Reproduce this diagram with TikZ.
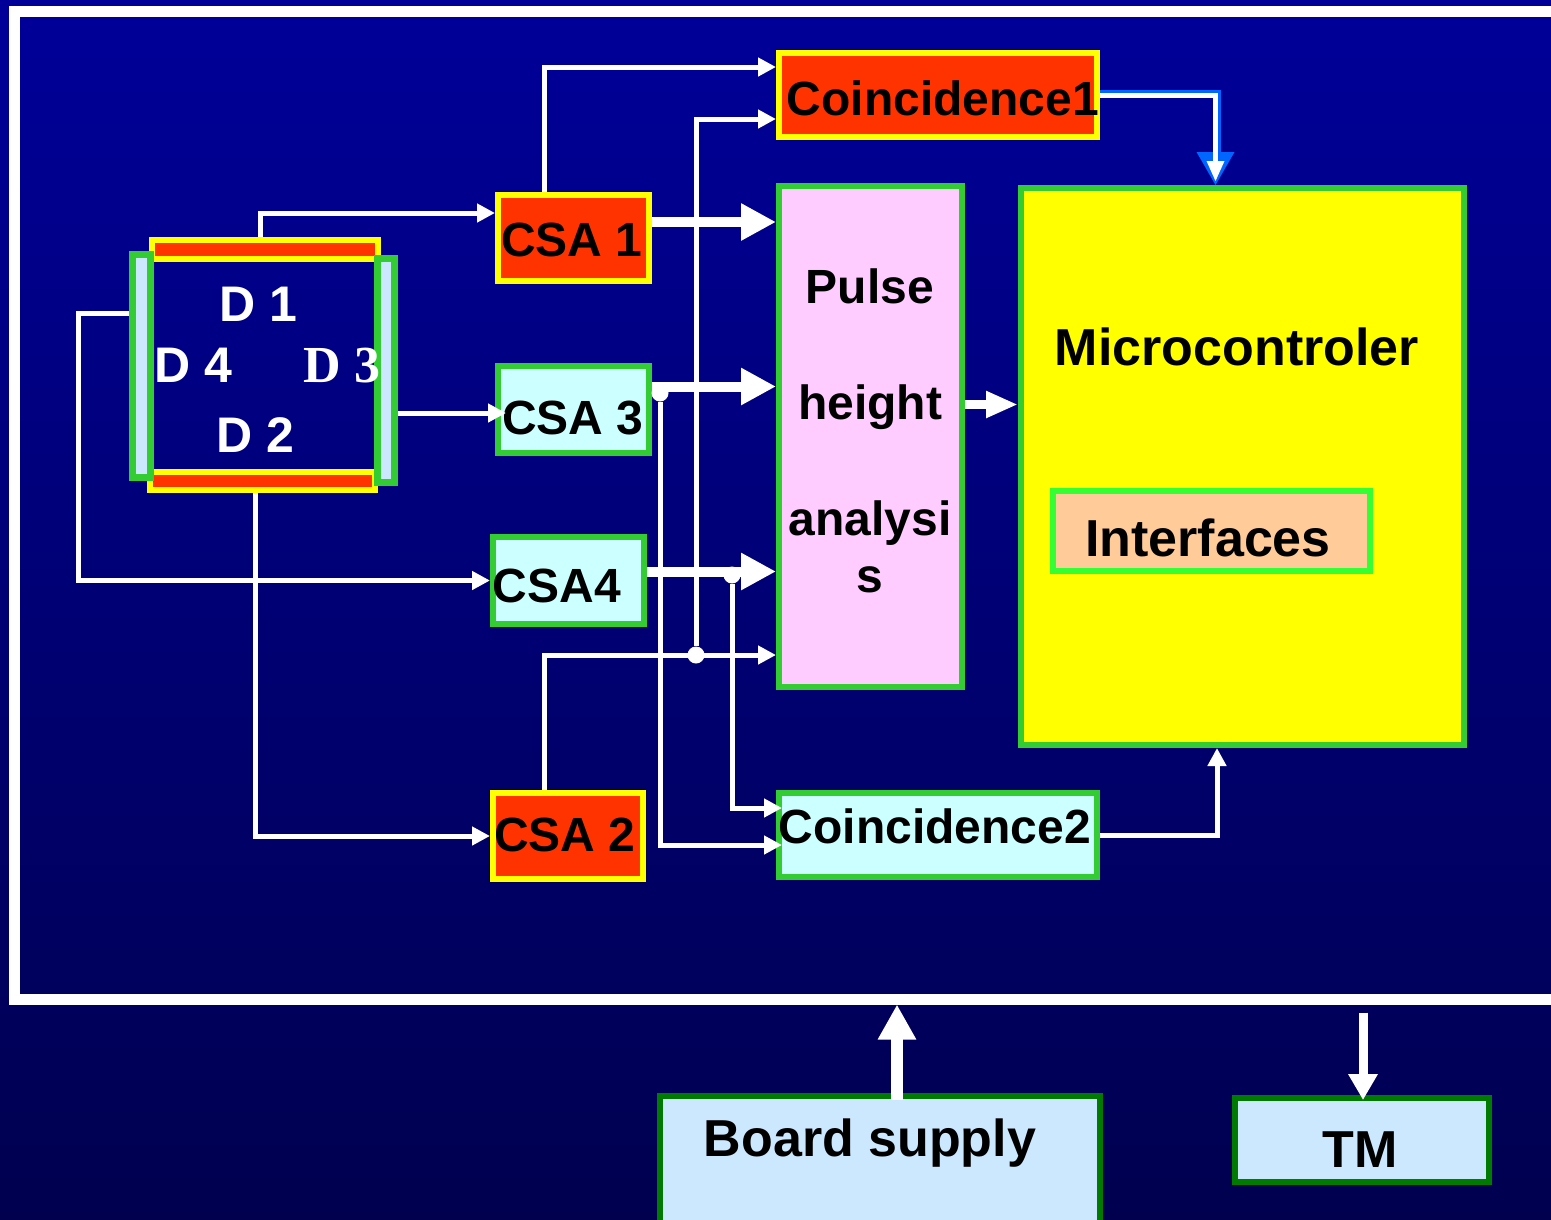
\documentclass[tikz,border=0pt]{standalone}
\usepackage{fontspec}
\setmainfont{Liberation Sans}
\newfontfamily\timesbf{Liberation Serif}
\usepackage{tikz}
\usetikzlibrary{arrows.meta,positioning,calc}
\definecolor{bgtop}{HTML}{000099}
\definecolor{bgbottom}{HTML}{00004F}
\definecolor{csared}{HTML}{FF3300}
\definecolor{csayellow}{HTML}{FFFF00}
\definecolor{boxgreen}{HTML}{33CC33}
\definecolor{limeline}{HTML}{33FF33}
\definecolor{darkline}{HTML}{007A00}
\definecolor{cyanback}{HTML}{CCFFFF}
\definecolor{skyback}{HTML}{CCE8FF}
\definecolor{pinkback}{HTML}{FFCCFF}
\definecolor{peachback}{HTML}{FFCC99}
\definecolor{edgeblue}{HTML}{0066FF}

\begin{document}
\begin{tikzpicture}[
  x=1pt,y=-1pt,
  blk/.style={rectangle,inner sep=0pt,line width=6pt},
  redbox/.style={blk,draw=csayellow,fill=csared},
  cyanbox/.style={blk,draw=boxgreen,fill=cyanback},
  gbar/.style={rectangle,inner sep=0pt,line width=7pt,draw=boxgreen,fill=skyback},
  lbl/.style={anchor=base,inner sep=0pt,text=black,font=\bfseries\fontsize{48}{50}\selectfont},
  bigtxt/.style={font=\bfseries\fontsize{52}{54}\selectfont},
  dlbl/.style={lbl,text=white,font=\bfseries\fontsize{50}{52}\selectfont},
  wire/.style={draw=white,line width=5pt,-{Triangle[length=18pt,width=18pt]}},
  bus/.style={draw=white,line width=10pt,-{Triangle[length=35pt,width=35pt]}},
  power/.style={draw=white,line width=12pt,-{Triangle[length=35pt,width=36pt]}},
  tmline/.style={draw=white,line width=9pt,-{Triangle[length=26pt,width=28pt]}},
  junc/.style={circle,fill=white,inner sep=0pt,minimum size=17pt}
]
\useasboundingbox (0,0) rectangle (1551,1219);
\shade[top color=bgtop,bottom color=bgbottom] (0,0) rectangle (1551,1219);
\node[draw=white,line width=11pt,inner sep=0pt,minimum width=1556pt,minimum height=988pt] (pcb) at (792,505) {};

\node[redbox,minimum width=226pt,minimum height=19pt] (d1) at (265,249.5) {};
\node[redbox,minimum width=225pt,minimum height=18pt] (d2) at (262.5,481) {};
\node[gbar,minimum width=18pt,minimum height=223pt] (d4) at (141.5,366) {};
\node[gbar,minimum width=17pt,minimum height=224pt] (d3) at (386,370.5) {};

\node[redbox,minimum width=318pt,minimum height=84pt] (c1) at (938,95) {};
\node[redbox,minimum width=151pt,minimum height=86pt] (csa1) at (573.5,238) {};
\node[cyanbox,minimum width=151pt,minimum height=87pt] (csa3) at (573.5,409.5) {};
\node[cyanbox,minimum width=151pt,minimum height=87pt] (csa4) at (568.5,580.5) {};
\node[redbox,minimum width=150pt,minimum height=86pt] (csa2) at (568,836) {};
\node[cyanbox,minimum width=318pt,minimum height=84pt] (c2) at (938,835) {};
\node[blk,draw=boxgreen,fill=pinkback,minimum width=183pt,minimum height=501pt] (pha) at (870.5,436.5) {};
\node[blk,draw=boxgreen,fill=csayellow,minimum width=443pt,minimum height=557pt] (mc) at (1242.5,466.5) {};
\node[blk,draw=limeline,fill=peachback,minimum width=317pt,minimum height=80pt] (itf) at (1211.5,531) {};
\node[blk,draw=darkline,fill=skyback,minimum width=440pt,minimum height=131pt] (bs) at (880,1161.5) {};
\node[blk,draw=darkline,fill=skyback,minimum width=254pt,minimum height=84pt] (tm) at (1362,1140) {};

\node[dlbl] (t-d1) at (258,321) {D 1};
\node[dlbl] (t-d4) at (193,382) {D 4};
\node[dlbl,font=\timesbf\bfseries\fontsize{52}{54}\selectfont] (t-d3) at (342,382) {D 3};
\node[dlbl] (t-d2) at (255,452) {D 2};
\node[lbl] (t-csa1) at (572,256) {CSA 1};
\node[lbl] (t-csa3) at (573,434) {CSA 3};
\node[lbl] (t-csa4) at (557,602) {CSA4};
\node[lbl] (t-csa2) at (565,851) {CSA 2};
\node[lbl] (t-c1) at (943,115) {Coincidence1};
\node[lbl] (t-c2) at (935,843) {Coincidence2};
\node[lbl] (t-pha1) at (870,303) {Pulse};
\node[lbl] (t-pha2) at (870,419) {height};
\node[lbl] (t-pha3) at (870,535) {analysi};
\node[lbl] (t-pha4) at (870,592) {s};
\node[lbl,bigtxt] (t-mc) at (1237,365) {Microcontroler};
\node[lbl,bigtxt] (t-itf) at (1208,556) {Interfaces};
\node[lbl,bigtxt] (t-bs) at (870,1156) {Board supply};
\node[lbl,bigtxt] (t-tm) at (1360,1167) {TM};

\coordinate (c1-in1) at ($(c1.west)+(0,-28)$);
\coordinate (c1-in2) at ($(c1.west)+(0,24)$);
\coordinate (c2-in1) at ($(c2.west)+(6,-27)$);
\coordinate (c2-in2) at ($(c2.west)+(6,10)$);
\coordinate (csa3-in) at ($(csa3.west)+(11,3.5)$);
\coordinate (mc-in1) at ($(mc.north)+(-27,0)$);
\coordinate (mc-in2) at ($(mc.south)+(-25.5,0)$);

\draw[wire] ([xshift=-5pt]d1.north) |- ($(csa1.west)+(0,-25)$);
\draw[wire] ([yshift=53pt]d4.west) -- ++(-51,0) |- (csa4.west);
\draw[wire] (d3.east |- csa3-in) -- (csa3-in);
\draw[wire] ([xshift=-7pt]d2.south) |- (csa2.west);

\draw[bus] ([yshift=16pt]csa1.east) -- ([yshift=16pt]csa1.east -| pha.west);
\draw[bus] ([yshift=23pt]csa3.east) -- ([yshift=23pt]csa3.east -| pha.west);
\draw[bus] ([yshift=9pt]csa4.east) -- ([yshift=9pt]csa4.east -| pha.west);
\draw[bus,line width=9pt,-{Triangle[length=32pt,width=25pt]}] ([yshift=32pt]pha.east) -- ([yshift=32pt]pha.east -| mc.west);

\node[junc] (j3) at (660,393) {};
\node[junc] (j4) at (732,575) {};
\node[junc] (j2) at (696,655) {};

\draw[wire] ([xshift=-29.5pt]csa1.north) |- (c1-in1);
\draw[wire] ([xshift=-24pt]csa2.north) |- (j2 -| pha.west);
\draw[wire] (j2) |- (c1-in2);
\draw[wire] (j3) |- (c2-in2);
\draw[wire] (j4) |- (c2-in1);
\draw[wire] (c2.east) -| (mc-in2);

\draw[line width=4pt,edgeblue] ([yshift=3pt]c1.east) -| ([xshift=3pt,yshift=33pt]mc-in1);
\fill[edgeblue] ([xshift=-19pt,yshift=33pt]mc-in1) -- ([xshift=19pt,yshift=33pt]mc-in1) -- (mc-in1) -- cycle;
\draw[line width=5pt,white] (c1.east) -| ([yshift=24pt]mc-in1);
\fill[white] ([xshift=-9pt,yshift=24pt]mc-in1) -- ([xshift=9pt,yshift=24pt]mc-in1) -- ([yshift=4pt]mc-in1) -- cycle;

\draw[power] ([xshift=17pt,yshift=-7pt]bs.north) -- ([xshift=17pt]bs.north |- pcb.south);
\draw[tmline] ([xshift=1pt,yshift=-8pt]tm.north |- pcb.south) -- ([xshift=1pt,yshift=-5pt]tm.north);
\end{tikzpicture}
\end{document}
